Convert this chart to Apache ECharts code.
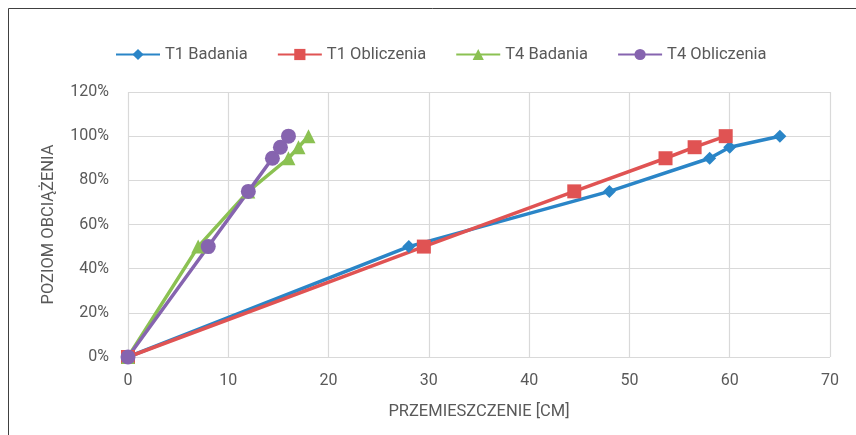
<!DOCTYPE html>
<html><head><meta charset="utf-8">
<script src="https://cdn.jsdelivr.net/npm/echarts@6/dist/echarts.min.js"></script>
<style>html,body{margin:0;padding:0;background:#fff}#c{width:856px;height:435px}</style>
</head><body><div id="c"></div>
<script>
const seriesNames = ['T1 Badania','T1 Obliczenia','T4 Badania','T4 Obliczenia'];
const loadLevels = [0, 50, 75, 90, 95, 100];
const t1BadaniaX = [0, 28, 48, 58, 60, 65];
const t1ObliczeniaX = [0, 29.5, 44.5, 53.6, 56.5, 59.6];
const t4BadaniaX = [0, 7, 12, 16, 17, 18];
const t4ObliczeniaX = [0, 8, 12, 14.4, 15.2, 16];
const xTicks = [0,10,20,30,40,50,60,70];
const yTicks = [0,20,40,60,80,100,120];

const colors = ['#2A85C7','#E05353','#8BC152','#8664AF'];
const symbols = ['diamond','rect','triangle','circle'];
const sizes = [13, 14, 14, 15];
const xs = [t1BadaniaX, t1ObliczeniaX, t4BadaniaX, t4ObliczeniaX];
const font = 'Roboto, "Noto Sans", sans-serif';
const txt = '#595959';

const chart = echarts.init(document.getElementById('c'), null, {renderer:'canvas'});
chart.setOption({
  animation:false,
  graphic:[{type:'rect', shape:{x:8.5,y:8.5,width:900,height:500}, style:{fill:'none',stroke:'#404040',lineWidth:1}, silent:true}],
  legend:{
    top:41, left:110, itemWidth:44, itemHeight:14, itemGap:29,
    textStyle:{color:txt, fontSize:16.5, fontFamily:font},
    data:seriesNames
  },
  grid:{left:128, top:92, width:702, height:265, containLabel:false},
  xAxis:{
    type:'value', min:xTicks[0], max:xTicks[xTicks.length-1], interval:10,
    name:'PRZEMIESZCZENIE [CM]', nameLocation:'middle', nameGap:46,
    nameTextStyle:{color:txt, fontSize:16.5, fontFamily:font},
    axisLine:{show:false}, axisTick:{show:false},
    axisLabel:{color:txt, fontSize:16, fontFamily:font, margin:16},
    splitLine:{show:true, lineStyle:{color:'#D9D9D9', width:1.2}}
  },
  yAxis:{
    type:'value', min:yTicks[0], max:yTicks[yTicks.length-1], interval:20,
    name:'POZIOM OBCIĄŻENIA', nameLocation:'middle', nameGap:71, nameRotate:90,
    nameTextStyle:{color:txt, fontSize:16.5, fontFamily:font},
    axisLine:{show:false}, axisTick:{show:false},
    axisLabel:{color:txt, fontSize:16, fontFamily:font, margin:19, formatter:v=>v+'%'},
    splitLine:{show:true, lineStyle:{color:'#D9D9D9', width:1.2}}
  },
  series: seriesNames.map((n,i)=>({
    name:n, type:'line', symbol:symbols[i], symbolSize:sizes[i],
    data: xs[i].map((x,j)=>[x, loadLevels[j]]),
    lineStyle:{color:colors[i], width:3.5},
    itemStyle:{color:colors[i]},
    showAllSymbol:true, clip:false
  }))
});
</script></body></html>
